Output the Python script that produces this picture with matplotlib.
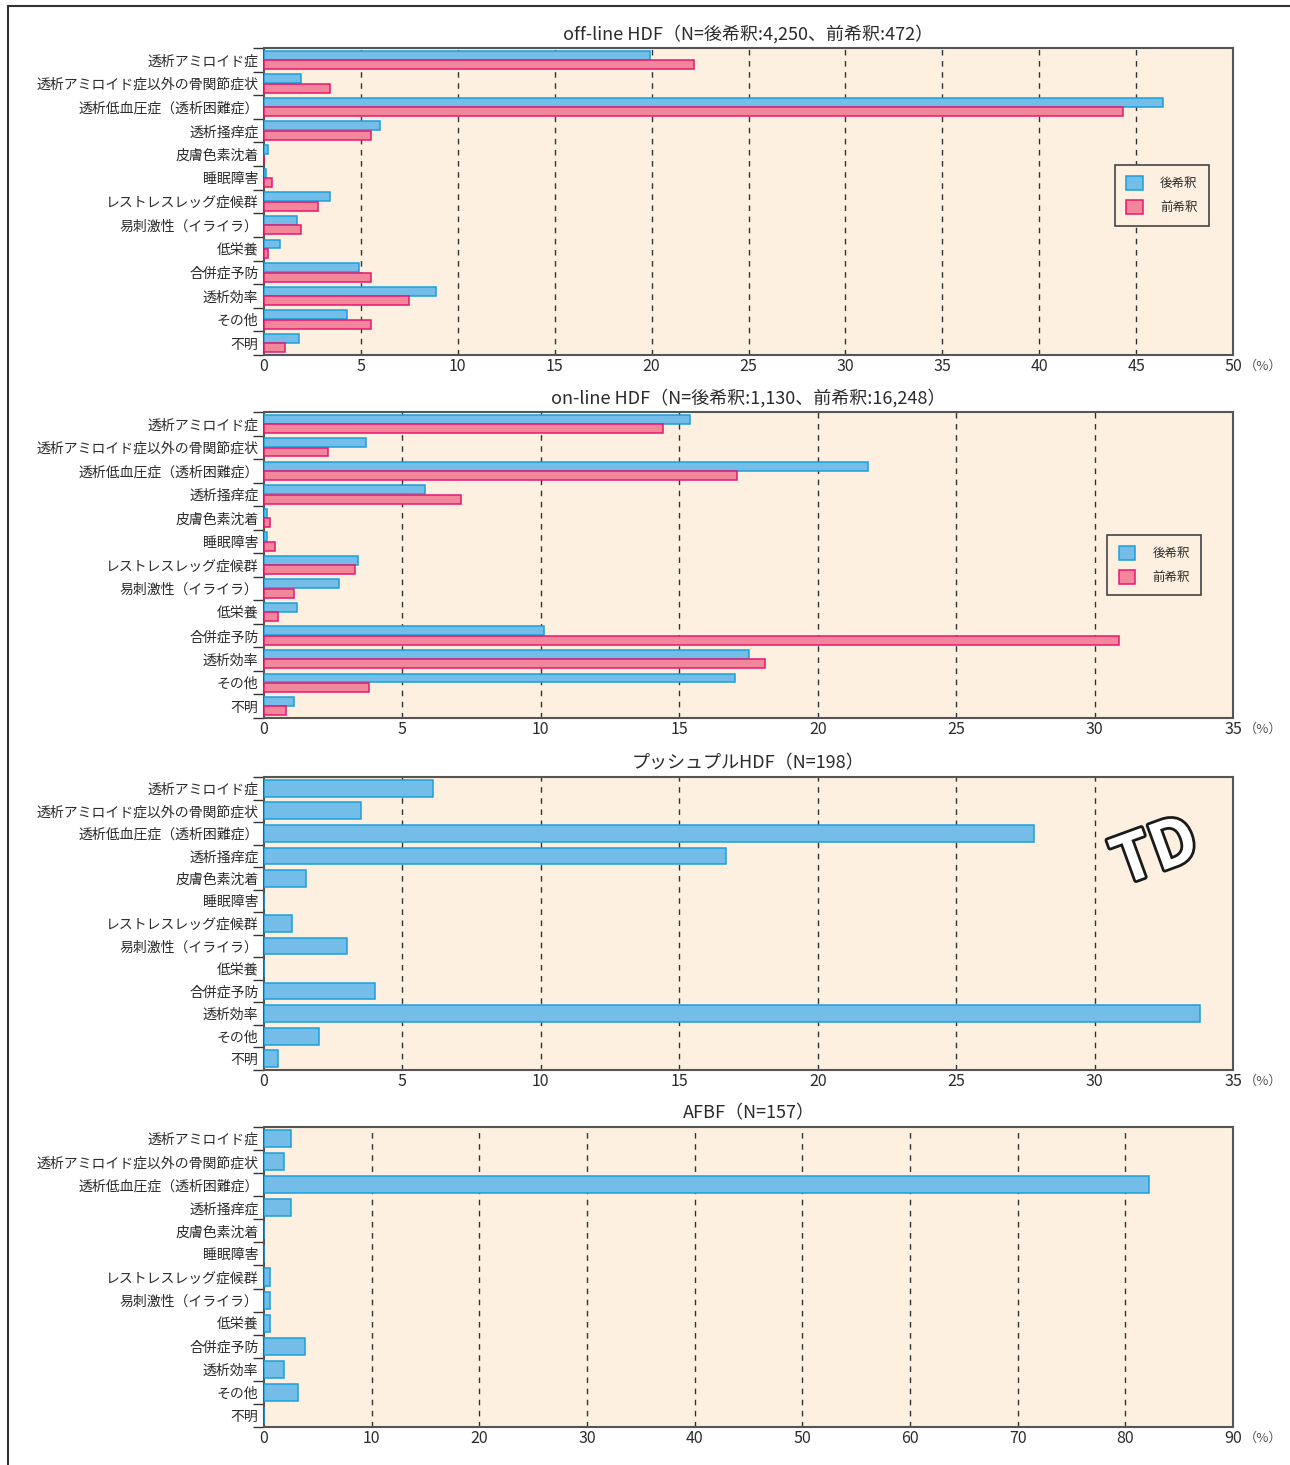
import numpy as np
import matplotlib
matplotlib.use("Agg")
from matplotlib import pyplot as plt
from matplotlib.lines import Line2D
import matplotlib.patheffects as pe

plt.rcParams['font.family'] = ['Noto Sans CJK JP', 'DejaVu Sans']

# %%
categories = [
    "透析アミロイド症",
    "透析アミロイド症以外の骨関節症状",
    "透析低血圧症（透析困難症）",
    "透析掻痒症",
    "皮膚色素沈着",
    "睡眠障害",
    "レストレスレッグ症候群",
    "易刺激性（イライラ）",
    "低栄養",
    "合併症予防",
    "透析効率",
    "その他",
    "不明",
]
series_names = ["後希釈", "前希釈"]

offline_post = [19.9, 1.9, 46.4, 6.0, 0.2, 0.1, 3.4, 1.7, 0.8, 4.9, 8.9, 4.3, 1.8]
offline_pre = [22.2, 3.4, 44.3, 5.5, 0.0, 0.4, 2.8, 1.9, 0.2, 5.5, 7.5, 5.5, 1.1]

online_post = [15.4, 3.7, 21.8, 5.8, 0.1, 0.1, 3.4, 2.7, 1.2, 10.1, 17.5, 17.0, 1.1]
online_pre = [14.4, 2.3, 17.1, 7.1, 0.2, 0.4, 3.3, 1.1, 0.5, 30.9, 18.1, 3.8, 0.8]

pushpull = [6.1, 3.5, 27.8, 16.7, 1.5, 0.0, 1.0, 3.0, 0.0, 4.0, 33.8, 2.0, 0.5]

afbf = [2.5, 1.9, 82.2, 2.5, 0.0, 0.0, 0.6, 0.6, 0.6, 3.8, 1.9, 3.2, 0.0]

titles = [
    "off-line HDF（N=後希釈:4,250、前希釈:472）",
    "on-line HDF（N=後希釈:1,130、前希釈:16,248）",
    "プッシュプルHDF（N=198）",
    "AFBF（N=157）",
]
xmax = [50, 35, 35, 90]
xstep = [5, 5, 5, 10]

# %%
BG = "#fdf0e0"
BLUE, BLUE_E = "#74bde8", "#19a0dc"
PINK, PINK_E = "#f2879b", "#e6176f"
TXT = "#2b2b2b"
SPINE = "#555555"

W, H = 1290, 1465
fig = plt.figure(figsize=(W / 100, H / 100), dpi=100)

# axes boxes in pixels: (top, bottom)
boxes = [(48, 355), (412, 718), (777, 1070), (1127, 1427)]
left_px, right_px = 264, 1233
legend_pos = [(0.975, 0.52), (0.967, 0.50)]

n = len(categories)
y = np.arange(n)
axes = []
for i, (top, bot) in enumerate(boxes):
    ax = fig.add_axes([left_px / W, 1 - bot / H, (right_px - left_px) / W, (bot - top) / H])
    ax.set_facecolor(BG)
    axes.append(ax)

    if i < 2:
        post, pre = (offline_post, offline_pre) if i == 0 else (online_post, online_pre)
        h = 0.38
        ax.barh(y - 0.2, post, height=h, color=BLUE, edgecolor=BLUE_E, linewidth=1.1,
                label=series_names[0], zorder=3)
        ax.barh(y + 0.2, pre, height=h, color=PINK, edgecolor=PINK_E, linewidth=1.1,
                label=series_names[1], zorder=3)
        leg = ax.legend(loc="center right", bbox_to_anchor=legend_pos[i], fontsize=9,
                        frameon=True, fancybox=False, edgecolor="#444444",
                        facecolor=BG, framealpha=1, handlelength=1.3, handleheight=1.3,
                        borderpad=0.9, labelspacing=0.8, handletextpad=1.4,
                        borderaxespad=0)
        leg.get_frame().set_linewidth(1.2)
        for t in leg.get_texts():
            t.set_color(TXT)
    else:
        vals = pushpull if i == 2 else afbf
        ax.barh(y, vals, height=0.74, color=BLUE, edgecolor=BLUE_E, linewidth=1.1, zorder=3)

    ax.set_ylim(n - 0.5, -0.5)
    ax.set_xlim(0, xmax[i])
    ticks = np.arange(0, xmax[i] + 0.1, xstep[i])
    ax.set_xticks(ticks)
    ax.set_xticklabels([f"{int(t)}" for t in ticks], fontsize=11.5, color=TXT)
    ax.tick_params(axis="x", length=0, pad=2)
    for t in ticks[1:-1]:
        ax.axvline(t, color="#333333", linestyle=(0, (4, 4)), linewidth=1.0, zorder=1)

    ax.set_yticks(y)
    ax.set_yticklabels(categories, fontsize=10, color=TXT)
    ax.tick_params(axis="y", which="major", length=0, pad=4)
    ax.set_yticks(np.arange(-0.5, n, 1.0), minor=True)
    ax.tick_params(axis="y", which="minor", length=8, width=1.0, color="#333333", direction="out")

    for s in ax.spines.values():
        s.set_color(SPINE)
        s.set_linewidth(1.5)
    ax.set_title(titles[i], fontsize=13, color=TXT, pad=6)
    ax.annotate("（%）", xy=(1, 0), xycoords="axes fraction", xytext=(8, -8),
                textcoords="offset points", fontsize=9.5, color="#555555",
                va="center", ha="left")

# logo on the push-pull panel
ax3 = axes[2]
ax3.text(0.92, 0.74, "TD", transform=ax3.transAxes, fontsize=46, fontweight="bold",
         color="white", ha="center", va="center", rotation=20, zorder=5,
         path_effects=[pe.withStroke(linewidth=4, foreground="#1a1a1a")])

# outer frame
fig.add_artist(Line2D([8 / W, 8 / W], [0, 1 - 6 / H], transform=fig.transFigure,
                      color="#333333", linewidth=1.5))
fig.add_artist(Line2D([8 / W, 1], [1 - 6 / H, 1 - 6 / H], transform=fig.transFigure,
                      color="#333333", linewidth=1.5))

fig.savefig("out.png", dpi=100, facecolor="white")
